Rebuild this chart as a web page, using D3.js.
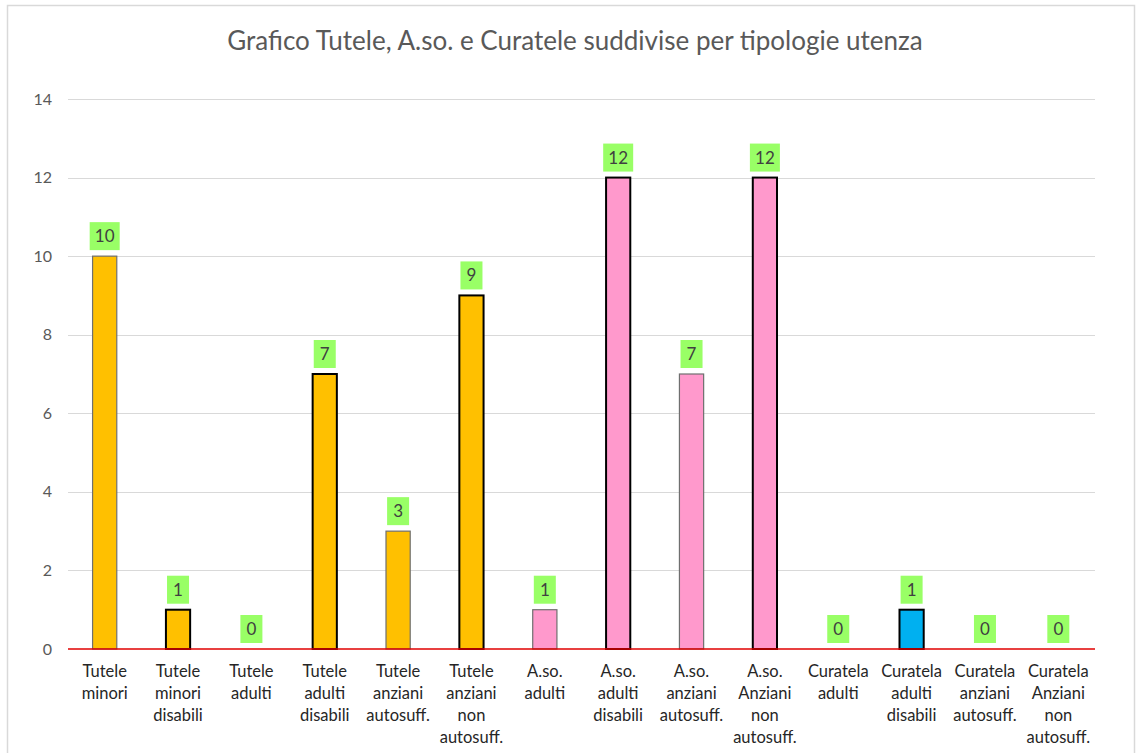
<!DOCTYPE html>
<html>
<head>
<meta charset="utf-8">
<script src="https://cdn.jsdelivr.net/npm/d3@7"></script>
<style>
  body { margin: 0; background: #fff; }
  svg text { font-family: Lato, "Open Sans", sans-serif; }
</style>
</head>
<body>
<script>
const W = 1139, H = 753;

// categorie (una lista di righe per barra) e valori
const labels = [
  ['Tutele', 'minori'],
  ['Tutele', 'minori', 'disabili'],
  ['Tutele', 'adulti'],
  ['Tutele', 'adulti', 'disabili'],
  ['Tutele', 'anziani', 'autosuff.'],
  ['Tutele', 'anziani', 'non', 'autosuff.'],
  ['A.so.', 'adulti'],
  ['A.so.', 'adulti', 'disabili'],
  ['A.so.', 'anziani', 'autosuff.'],
  ['A.so.', 'Anziani', 'non', 'autosuff.'],
  ['Curatela', 'adulti'],
  ['Curatela', 'adulti', 'disabili'],
  ['Curatela', 'anziani', 'autosuff.'],
  ['Curatela', 'Anziani', 'non', 'autosuff.']
];
const values = [10, 1, 0, 7, 3, 9, 1, 12, 7, 12, 0, 1, 0, 0];
const groups = ['T', 'T', 'T', 'T', 'T', 'T', 'A', 'A', 'A', 'A', 'C', 'C', 'C', 'C'];
const yTicks = [0, 2, 4, 6, 8, 10, 12, 14];

const fillOf = { T: '#FFC000', A: '#FF99CC', C: '#00B0F0' };
// alcune barre hanno il contorno nero spesso
const heavy = [false, true, false, true, false, true, false, true, false, true, false, true, false, false];

const margin = { left: 68, right: 44, top: 99, bottom: 104 };

const svg = d3.select('body').append('svg')
  .attr('width', W).attr('height', H);

// cornice del grafico
svg.append('rect')
  .attr('x', 7.5).attr('y', 5.5)
  .attr('width', 1127).attr('height', 760)
  .attr('fill', '#fff').attr('stroke', '#d9d9d9').attr('stroke-width', 1.5);

svg.append('text')
  .attr('x', 575).attr('y', 50)
  .attr('text-anchor', 'middle')
  .attr('font-size', 26)
  .attr('fill', '#595959')
  .text('Grafico Tutele, A.so. e Curatele suddivise per tipologie utenza');

const x = d3.scaleBand()
  .domain(d3.range(values.length))
  .range([margin.left, W - margin.right])
  .paddingInner(0.67).paddingOuter(0.335);

const y = d3.scaleLinear().domain([0, 14]).range([H - margin.bottom, margin.top]);

// griglia
svg.append('g')
  .selectAll('line')
  .data(yTicks.filter(d => d > 0))
  .join('line')
  .attr('x1', margin.left).attr('x2', W - margin.right)
  .attr('y1', d => Math.round(y(d)) + 0.5).attr('y2', d => Math.round(y(d)) + 0.5)
  .attr('stroke', '#d9d9d9');

// etichette asse y
const yAxis = d3.axisLeft(y).tickValues(yTicks).tickSize(0).tickPadding(16);
const gy = svg.append('g').attr('transform', `translate(${margin.left},0)`).call(yAxis);
gy.select('.domain').remove();
gy.selectAll('text')
  .attr('font-size', 16)
  .attr('fill', '#595959')
  .style('font-family', 'Lato, sans-serif');

// barre
svg.append('g')
  .selectAll('rect')
  .data(values.map((v, i) => ({ v, i })).filter(d => d.v > 0))
  .join('rect')
  .attr('x', d => x(d.i))
  .attr('y', d => y(d.v))
  .attr('width', x.bandwidth())
  .attr('height', d => y(0) - y(d.v))
  .attr('fill', d => fillOf[groups[d.i]])
  .attr('stroke', d => heavy[d.i] || groups[d.i] === 'C' ? '#000' : '#6f6f6f')
  .attr('stroke-width', d => heavy[d.i] ? 2 : 1.2);

// linea base rossa
svg.append('line')
  .attr('x1', margin.left).attr('x2', W - margin.right)
  .attr('y1', y(0)).attr('y2', y(0))
  .attr('stroke', '#e00000').attr('stroke-width', 1.5);

// etichette valori con sfondo verde
const lbl = svg.append('g')
  .selectAll('g')
  .data(values)
  .join('g')
  .attr('transform', (d, i) => `translate(${x(i) + x.bandwidth() / 2},${y(d) - 6})`);

lbl.append('rect')
  .attr('x', d => String(d).length > 1 ? -15 : -11)
  .attr('y', -28)
  .attr('width', d => String(d).length > 1 ? 30 : 22)
  .attr('height', 28)
  .attr('fill', '#99FF66');

lbl.append('text')
  .attr('y', -8)
  .attr('text-anchor', 'middle')
  .attr('font-size', 17)
  .attr('fill', '#404040')
  .text(d => d);

// etichette categorie
const xl = svg.append('g')
  .selectAll('text')
  .data(labels)
  .join('text')
  .attr('x', (d, i) => x(i) + x.bandwidth() / 2)
  .attr('y', 677)
  .attr('text-anchor', 'middle')
  .attr('font-size', 16.5)
  .attr('fill', '#262626');

xl.selectAll('tspan')
  .data(d => d)
  .join('tspan')
  .attr('x', function () { return this.parentNode.getAttribute('x'); })
  .attr('dy', (d, i) => i === 0 ? 0 : 22)
  .text(d => d);
</script>
</body>
</html>
